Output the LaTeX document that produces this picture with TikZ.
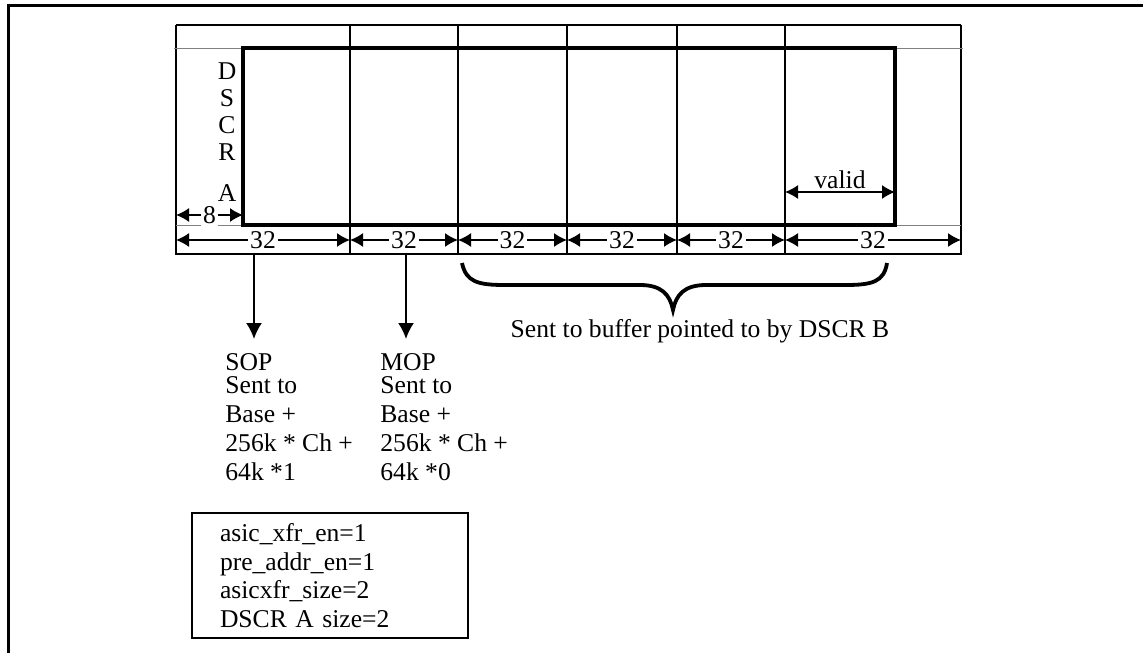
\documentclass[tikz,border=0pt]{standalone}
\usepackage{fontspec}
\setmainfont{Liberation Serif}
\usepackage{tikz}
\usetikzlibrary{arrows.meta,positioning}

\begin{document}
\begin{tikzpicture}[x=0.5pt,y=-0.5pt,>=Latex,
  font=\fontsize{12.8}{14.5}\selectfont,
  outerline/.style={line width=1.5pt},
  cell/.style={line width=1pt},
  faint/.style={line width=0.5pt,gray},
  thickbox/.style={line width=2pt},
  dimline/.style={line width=0.7pt,{Latex[length=6.5pt,width=7pt]}-{Latex[length=6.5pt,width=7pt]}},
  dimlabel/.style={fill=white,inner sep=1pt},
  sendarrow/.style={line width=1pt,-{Latex[length=8pt,width=8pt]}},
  curly/.style={line width=1.9pt},
  desc/.style={align=left,anchor=north west,inner sep=0pt},
  cfgbox/.style={draw,line width=1pt,align=left,text width=110pt,inner xsep=14pt,
    minimum height=62.5pt,font=\fontsize{12.8}{14.25}\selectfont}]
  \useasboundingbox (0,0) rectangle (1143,653);
  \draw[outerline] (1143,5) -- (8.5,5) -- (8.5,653);

  % buffer cells
  \foreach \x [count=\i from 0] in {176,350,458,567,677,785,961}{
    \coordinate (c\i) at (\x,240);
    \draw[cell] (\x,25) -- (\x,255);
  }
  \draw[cell] (176,25) -- (961,25);
  \draw[cell] (176,254) -- (961,254);
  \draw[faint] (174,48) -- (243,48);
  \draw[faint] (895,48) -- (963,48);
  \draw[faint] (176,225) -- (243,225);
  \draw[faint] (895,225) -- (961,225);
  \draw[thickbox] (243,48) rectangle (895,225);

  % widths
  \foreach \i [remember=\i as \j (initially 0)] in {1,...,6}
    \draw[dimline] (c\j) -- node[dimlabel] (w\i) {32} (c\i);
  \coordinate (hl) at (176,215);
  \coordinate (hr) at (243,215);
  \draw[dimline] (hl) -- node[dimlabel] (w0) {8} (hr);
  \coordinate (vl) at (785,192);
  \coordinate (vr) at (895,192);
  \draw[dimline] (vl) -- node[above=-2pt] (valid) {valid} (vr);

  \node (dscr) [anchor=north,inner sep=0pt,align=center,font=\fontsize{12.8}{13.5}\selectfont]
    at (227,62) {D\\S\\C\\R\\[7pt]A};

  % where the words go
  \coordinate (sopsrc) at (254,254);
  \coordinate (soptip) at (254,339);
  \coordinate (mopsrc) at (406,254);
  \coordinate (moptip) at (406,339);
  \draw[sendarrow] (sopsrc) -- (soptip);
  \draw[sendarrow] (mopsrc) -- (moptip);
  \node (sop) [desc] at (225,353) {SOP\\[-3pt]Sent to\\Base +\\256k * Ch +\\64k *1};
  \node (mop) [desc] at (380,353) {MOP\\[-3pt]Sent to\\Base +\\256k * Ch +\\64k *0};

  \draw[curly] (462,263) .. controls (466,282) and (478,285) .. (505,285) -- (640,285)
    .. controls (662,285) and (670,295) .. (673,310)
    .. controls (676,295) and (684,285) .. (706,285) -- (845,285)
    .. controls (872,285) and (884,282) .. (887,263);
  \node (dest) at (700,331) {Sent to buffer pointed to by DSCR B};

  \node (cfg) [cfgbox] at (330,575.5)
    {asic\_xfr\_en=1\\pre\_addr\_en=1\\asicxfr\_size=2\\DSCR A size=2};
\end{tikzpicture}
\end{document}
